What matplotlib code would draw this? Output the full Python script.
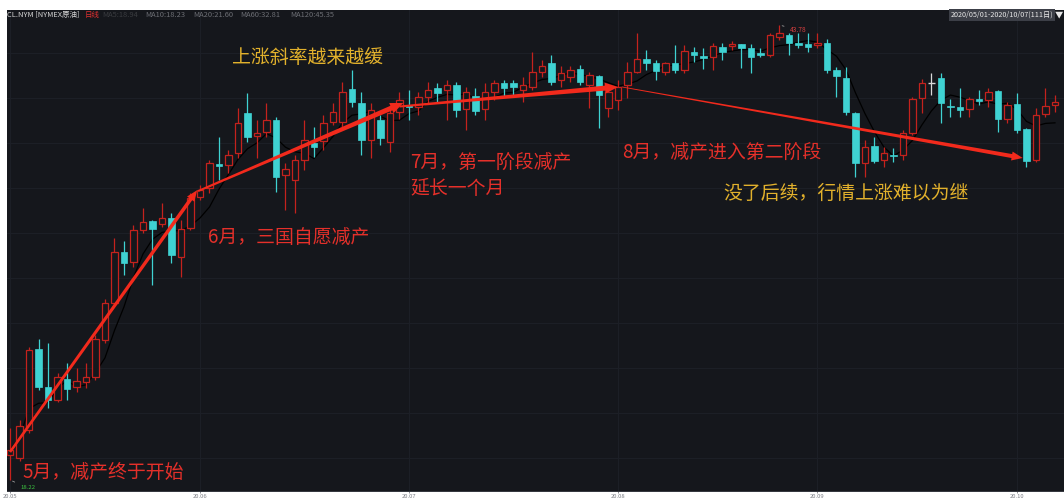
import numpy as np
import pandas as pd
import matplotlib
matplotlib.use("Agg")
import matplotlib.pyplot as plt
from matplotlib.patches import Rectangle, Polygon
from matplotlib.transforms import IdentityTransform

plt.rcParams['font.family'] = ['Noto Sans CJK SC', 'DejaVu Sans']

# ---------------- data (CL.NYM daily, 2020/05/01 - 2020/10/07, 111 days) ----------------
opens = [19.62, 19.45, 21.03, 25.58, 23.44, 22.71, 23.89, 23.44, 23.72, 24.00,
         26.08, 28.16, 31.03, 30.47, 32.26, 32.77, 32.60, 32.94, 30.75, 32.38,
         34.12, 34.62, 35.97, 35.91, 36.59, 38.84, 37.54, 37.77, 38.44, 35.35,
         35.07, 36.20, 37.15, 37.26, 38.33, 38.33, 40.18, 39.40, 37.32, 38.44,
         37.21, 38.89, 39.29, 39.17, 39.74, 40.24, 40.13, 40.41, 39.06, 39.79,
         39.06, 40.02, 40.52, 40.52, 40.13, 40.30, 41.14, 41.65, 40.69, 40.86,
         41.31, 40.41, 40.91, 39.12, 39.57, 40.41, 41.14, 41.87, 41.65, 41.14,
         41.65, 41.25, 42.26, 42.04, 41.98, 42.54, 42.60, 42.71, 42.49, 42.21,
         42.09, 43.11, 43.22, 42.77, 42.71, 42.66, 42.77, 41.25, 40.80, 38.84,
         36.03, 36.98, 36.20, 36.48, 36.48, 37.71, 39.68, 40.52, 40.80, 39.23,
         39.17, 39.06, 39.62, 39.57, 40.07, 38.50, 39.34, 37.94, 36.20, 38.78,
         39.29]
highs = [21.14, 21.59, 25.69, 26.14, 25.91, 24.23, 24.79, 24.51, 24.79, 26.36,
         28.40, 31.81, 31.65, 32.54, 33.50, 32.80, 33.78, 33.22, 32.82, 34.34,
         34.79, 36.20, 37.49, 36.76, 39.12, 39.96, 38.44, 39.40, 38.60, 36.03,
         36.48, 38.44, 38.05, 38.72, 39.40, 40.58, 41.25, 40.02, 39.40, 38.72,
         39.00, 40.02, 40.13, 40.02, 40.58, 40.52, 40.69, 40.58, 40.30, 40.24,
         40.52, 40.69, 40.69, 40.69, 40.86, 42.26, 41.81, 42.09, 41.48, 41.48,
         41.53, 41.14, 40.97, 40.24, 40.69, 41.70, 43.33, 42.38, 41.81, 41.70,
         42.66, 42.66, 42.54, 42.49, 42.77, 42.77, 42.88, 42.71, 42.71, 42.49,
         43.33, 43.78, 43.33, 43.33, 43.33, 43.33, 42.99, 41.42, 41.42, 38.89,
         37.32, 37.49, 36.93, 36.87, 37.88, 39.74, 40.75, 41.08, 41.08, 39.62,
         40.24, 39.74, 40.13, 40.24, 40.13, 39.45, 39.96, 37.99, 39.12, 40.24,
         39.85]
lows = [18.22, 19.30, 20.86, 23.27, 22.26, 22.60, 22.71, 23.16, 23.39, 23.84,
        25.91, 28.05, 29.73, 30.18, 32.09, 29.17, 32.43, 30.41, 29.62, 32.26,
        33.95, 34.34, 35.07, 35.47, 36.31, 37.21, 36.31, 37.49, 34.40, 33.39,
        33.22, 35.63, 36.36, 36.76, 38.16, 38.05, 39.17, 36.48, 36.31, 37.04,
        36.65, 38.50, 38.44, 38.72, 39.40, 39.45, 38.44, 38.61, 37.88, 38.72,
        38.44, 39.57, 39.74, 39.74, 39.45, 40.13, 40.86, 40.41, 40.30, 40.58,
        40.41, 39.12, 37.99, 38.61, 39.00, 39.68, 41.08, 41.25, 40.69, 40.97,
        41.08, 41.08, 41.70, 41.31, 41.25, 41.81, 42.38, 41.36, 41.08, 41.98,
        41.98, 42.94, 42.09, 42.49, 42.26, 42.49, 41.08, 39.74, 38.72, 35.24,
        35.24, 36.03, 35.80, 36.08, 36.20, 37.60, 38.84, 39.85, 38.27, 38.61,
        38.61, 38.61, 39.29, 39.17, 37.77, 38.27, 37.71, 35.80, 36.08, 38.61,
        38.89]
closes = [19.90, 21.25, 25.52, 23.44, 22.71, 24.00, 23.33, 23.78, 24.00, 26.14,
          28.16, 31.03, 30.41, 32.26, 32.71, 32.32, 32.94, 30.86, 32.32, 34.06,
          34.51, 36.03, 35.86, 36.48, 38.27, 37.49, 37.71, 38.44, 35.24, 35.69,
          36.20, 37.32, 36.93, 38.27, 38.89, 40.02, 39.45, 37.32, 39.00, 37.43,
          38.84, 39.57, 39.17, 39.74, 40.13, 39.96, 40.41, 39.00, 40.02, 38.95,
          40.02, 40.52, 40.24, 40.30, 40.41, 41.14, 41.48, 40.58, 41.08, 41.25,
          40.58, 40.97, 39.85, 40.02, 40.30, 41.14, 41.87, 41.65, 41.20, 41.65,
          41.25, 42.32, 42.09, 41.93, 42.60, 42.26, 42.71, 42.49, 41.98, 42.09,
          43.22, 43.33, 42.77, 42.66, 42.54, 42.77, 41.25, 40.91, 38.89, 36.03,
          36.93, 36.14, 36.59, 36.42, 37.71, 39.62, 40.52, 40.52, 39.40, 39.17,
          39.00, 39.62, 39.51, 40.02, 38.50, 39.29, 37.88, 36.14, 38.72, 39.23,
          39.45]

month_idx = [0, 20, 42, 64, 85, 106]
month_labels = ['20.05', '20.06', '20.07', '20.08', '20.09', '20.10']

header_left = 'CL.NYM [NYMEX原油]'
header_period = '日线'
header_ma = ['MA5:18.94', 'MA10:18.23', 'MA20:21.60', 'MA60:32.81', 'MA120:45.35']
header_range = '2020/05/01-2020/10/07(111日)'

# annotations: (text, x index, price, colour)
notes = [
    ('上涨斜率越来越缓', 23.4, 41.98, '#e2b12c'),
    ('6月，三国自愿减产', 20.8, 31.87, '#e5302a'),
    ('7月，第一阶段减产', 42.1, 36.08, '#e5302a'),
    ('延长一个月', 42.1, 34.62, '#e5302a'),
    ('8月，减产进入第二阶段', 64.4, 36.65, '#e5302a'),
    ('没了后续，行情上涨难以为继', 75.05, 34.34, '#e2b12c'),
    ('5月，减产终于开始', 1.26, 18.62, '#e5302a'),
]
# trend arrows: (x0, p0, x1, p1, tail width px, end width px, head len, head width)
arrows = [
    (0.0, 19.79, 19.7, 34.50, 2.6, 3.6, 11, 9),
    (19.8, 34.45, 41.4, 39.40, 2.0, 5.0, 13, 11),
    (41.0, 39.20, 64.0, 40.30, 2.0, 5.0, 13, 11),
    (64.4, 40.30, 106.6, 36.31, 0.8, 4.0, 11, 9),
]

# ---------------- style ----------------
BG = '#15171c'
UP = '#c4221d'
DOWN = '#3fd2d2'
ARROW = '#f22a1c'

W, H = 1064, 500
fig = plt.figure(figsize=(W / 100, H / 100), dpi=100, facecolor='white')
ax = fig.add_axes([7 / W, 9 / H, (W - 7) / W, (491 - 10) / H])
ax.set_facecolor(BG)

n = len(closes)
x = np.arange(n)
ax.set_xlim(-0.316, 110.95)
ax.set_ylim(17.60, 44.623)

# grid
ax.set_yticks(42.207 - 2.528 * np.arange(10))
ax.set_xticks(month_idx)
ax.set_xticklabels(month_labels)
ax.grid(True, color='#1d2027', lw=0.7)
ax.tick_params(axis='y', length=0, labelleft=False)
ax.tick_params(axis='x', length=1.5, pad=0.5, labelsize=4.2, colors='#7c7f86', width=0.6)
for s in ['top', 'left', 'right']:
    ax.spines[s].set_visible(False)
ax.spines['bottom'].set_color('#30333a')
ax.spines['bottom'].set_linewidth(0.7)

# candles
bw = 0.72
for i in range(n):
    o, h, l, c = opens[i], highs[i], lows[i], closes[i]
    if c > o:
        ax.vlines(i, c, h, color=UP, lw=0.9, zorder=3)
        ax.vlines(i, l, o, color=UP, lw=0.9, zorder=3)
        ax.add_patch(Rectangle((i - bw / 2, o), bw, c - o, facecolor=BG,
                               edgecolor=UP, lw=0.9, zorder=3))
    elif c < o:
        ax.vlines(i, l, h, color=DOWN, lw=0.9, zorder=3)
        ax.add_patch(Rectangle((i - bw / 2, c), bw, o - c, facecolor=DOWN,
                               edgecolor=DOWN, lw=0.5, zorder=3))
    else:
        ax.vlines(i, l, h, color='#d8d8d8', lw=0.9, zorder=3)
        ax.hlines(o, i - bw / 2, i + bw / 2, color='#d8d8d8', lw=1.0, zorder=3)

# MA5
ma5 = pd.Series(closes).rolling(5, min_periods=1).mean()
ax.plot(x, ma5, color='#000000', lw=0.9, zorder=2)

# max / min markers
imax = int(np.argmax(highs))
ax.annotate(f'{highs[imax]:.2f}', xy=(imax, highs[imax]), xytext=(10, -5),
            textcoords='offset pixels', fontsize=4.8, color='#d84040',
            va='center', ha='left',
            arrowprops=dict(arrowstyle='-', color='#9a9a9a', lw=0.6))
imin = int(np.argmin(lows))
ax.annotate(f'{lows[imin]:.2f}', xy=(imin, lows[imin]), xytext=(10, -8),
            textcoords='offset pixels', fontsize=4.3, color='#3cc040',
            va='center', ha='left',
            arrowprops=dict(arrowstyle='-', color='#9a9a9a', lw=0.6))

# tapered arrows
fig.canvas.draw()
T = ax.transData
for (x0, p0, x1, p1, w0, w1, hl, hw) in arrows:
    a = T.transform((x0, p0))
    b = T.transform((x1, p1))
    d = b - a
    L = np.hypot(d[0], d[1])
    u = d / L
    nv = np.array([-u[1], u[0]])
    base = b - u * hl
    pts = [a + nv * w0 / 2, base + nv * w1 / 2, base + nv * hw / 2, b,
           base - nv * hw / 2, base - nv * w1 / 2, a - nv * w0 / 2]
    ax.add_patch(Polygon(pts, closed=True, transform=IdentityTransform(),
                         facecolor=ARROW, edgecolor='none', zorder=6,
                         clip_on=False))

# text notes
for (s, xi, p, col) in notes:
    ax.text(xi, p, s, color=col, fontsize=13.6, ha='left', va='center', zorder=7)

# header
def ftext(px, py, s, **kw):
    fig.text(px / W, 1 - py / H, s, va='center', **kw)

ftext(7, 15, header_left, fontsize=5.4, color='#d6d6d6')
ftext(85, 15, header_period, fontsize=5.4, color='#e03030')
ma_x = [102, 145, 193, 240, 290]
ma_c = ['#3a3c40', '#6c6e74', '#6c6e74', '#6c6e74', '#6c6e74']
for s, px, c in zip(header_ma, ma_x, ma_c):
    ftext(px, 15, s, fontsize=5.4, color=c)
ftext(951, 15, header_range, fontsize=5.2, color='#e8e8e8',
      bbox=dict(boxstyle='square,pad=0.25', facecolor='#3c3f47', edgecolor='none'))
ftext(1055, 15, '▼', fontsize=6, color='#e8e8e8')

fig.savefig('out.png', dpi=100, facecolor=fig.get_facecolor())
